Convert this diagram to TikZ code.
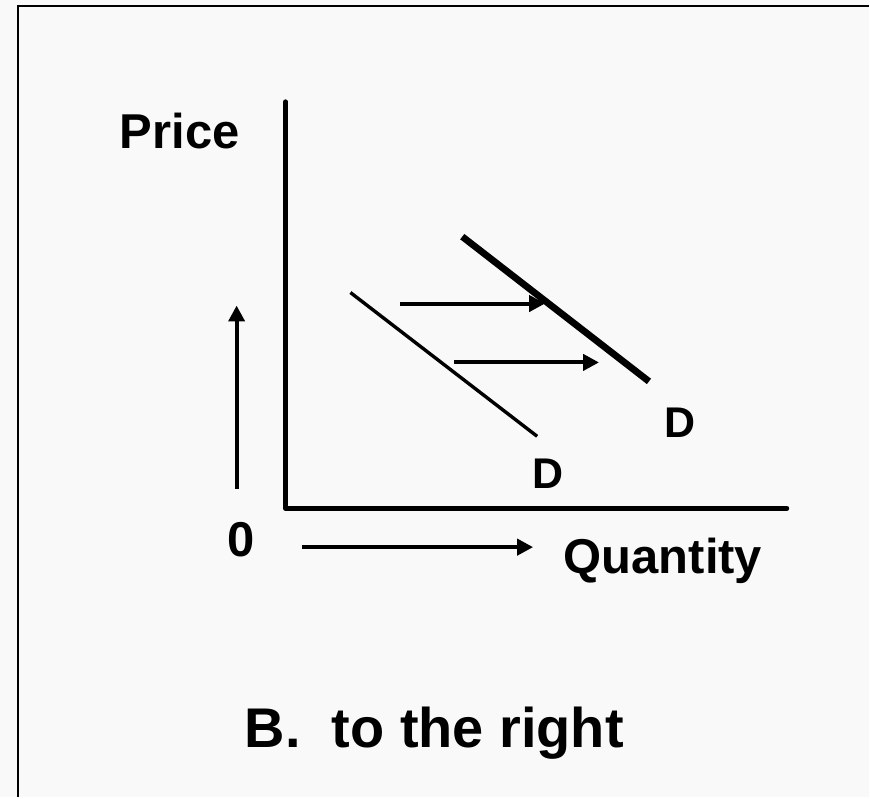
\documentclass[tikz,border=0pt]{standalone}
\usepackage{fontspec}
\setmainfont{Liberation Sans}
\usetikzlibrary{arrows.meta}
\definecolor{paper}{HTML}{F9F9F9}

\begin{document}
\begin{tikzpicture}[x=0.5pt, y=-0.5pt, >={Triangle[length=8pt,width=8pt]}, line width=2pt,
  lbl/.style={font=\bfseries\fontsize{24.5}{29}\selectfont, anchor=base, inner sep=0pt}]
  \fill[paper] (0,0) rectangle (870,798);
  \draw[line width=1.4pt] (18,798) -- (18,6) -- (870,6);
  % axes
  \coordinate (O) at (286,509);
  \coordinate (ytop) at (286,102);
  \coordinate (xend) at (788,509);
  \draw[line width=2.5pt, line cap=round, line join=round] (ytop) -- (O) -- (xend);
  \node[lbl] (price) at (180,149) {Price};
  \node[lbl] (zero) at (241,557) {0};
  \node[lbl] (qty) at (664,574) {Quantity};
  % direction arrows
  \coordinate (up0) at (237,490); \coordinate (up1) at (237,306);
  \coordinate (rt0) at (302,548); \coordinate (rt1) at (534,548);
  \draw[->] (up0) -- (up1);
  \draw[->] (rt0) -- (rt1);
  % demand curves
  \coordinate (d1a) at (351,293); \coordinate (d1b) at (538,437);
  \coordinate (d2a) at (463,237); \coordinate (d2b) at (650,382);
  \draw[line width=1.7pt] (d1a) -- (d1b);
  \draw[line width=3.4pt] (d2a) -- (d2b);
  \node[lbl, font=\bfseries\fontsize{21.5}{26}\selectfont] (D1) at (549,489) {D};
  \node[lbl, font=\bfseries\fontsize{21.5}{26}\selectfont] (D2) at (681,438) {D};
  % shift
  \coordinate (s1a) at (401,304); \coordinate (s1b) at (546,304);
  \coordinate (s2a) at (455,363); \coordinate (s2b) at (600,363);
  \draw[->] (s1a) -- (s1b);
  \draw[->] (s2a) -- (s2b);
  \node[lbl, font=\bfseries\fontsize{28}{34}\selectfont] (title) at (435,749) {B.\ \ to the right};
\end{tikzpicture}
\end{document}
